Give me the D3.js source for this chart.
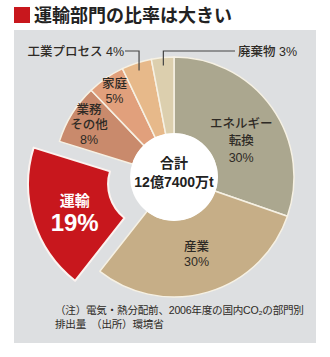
<!DOCTYPE html>
<html><head><meta charset="utf-8">
<script src="https://cdn.jsdelivr.net/npm/d3@7"></script>
<style>
html,body{margin:0;padding:0;background:#fff;}
svg{display:block;font-family:"Liberation Sans","Noto Sans CJK JP",sans-serif;}
</style></head><body>
<svg id="c" width="330" height="357"></svg>
<script>
const title = "運輸部門の比率は大きい";
const categories = ["エネルギー\n転換", "産業", "運輸", "業務\nその他", "家庭", "工業プロセス", "廃棄物"];
const values = [30, 30, 19, 8, 5, 4, 3];
const colors = ["#aba78f", "#c6ae87", "#c8171d", "#c98a6c", "#e1a07c", "#e7b98a", "#dccfae"];
const totalLabel = ["合計", "12億7400万t"];
const note = ["（注）電気・熱分配前、2006年度の国内CO₂の部門別", "排出量　（出所）環境省"];
const highlight = "運輸";
const outsideLabels = ["工業プロセス", "廃棄物"];

const svg = d3.select("#c");
// panel
svg.append("rect").attr("x",14).attr("y",30).attr("width",302).attr("height",313).attr("fill","#dddfe1");
// title
svg.append("rect").attr("x",14).attr("y",7).attr("width",16).attr("height",16).attr("fill","#c8171d");
svg.append("text").attr("x",34).attr("y",22).attr("font-size",18).attr("font-weight","bold")
  .attr("font-family","Noto Sans CJK JP").attr("fill","#222").text(title);

const cx = 174, cy = 177, R = 120, r0 = 43, explode = 24, Rhl = 123;
const data = categories.map((c,i)=>({cat:c, value:values[i], color:colors[i]}));
const pie = d3.pie().value(d=>d.value).sort(null);
const arcs = pie(data);
const arc = d3.arc().innerRadius(r0).outerRadius(d=>d.data.cat===highlight?Rhl:R);
const g = svg.append("g").attr("transform",`translate(${cx},${cy})`);

function offset(a){
  if (a.data.cat !== highlight) return [0,0];
  const m = (a.startAngle+a.endAngle)/2;
  return [explode*Math.sin(m), -explode*Math.cos(m)];
}
g.selectAll("path.s").data(arcs).join("path").attr("class","s")
  .attr("d",arc)
  .attr("transform",d=>`translate(${offset(d)})`)
  .attr("fill",d=>d.data.color)
  .attr("stroke",d=>d.data.cat===highlight?"#fbf3f0":"#f6f1e4")
  .attr("stroke-width",d=>d.data.cat===highlight?2:1.5).attr("stroke-linejoin","round");

g.append("circle").attr("r",r0+1).attr("fill","#fff");
g.append("text").attr("text-anchor","middle").attr("y",-9).attr("font-size",14).attr("font-weight","bold").attr("fill","#222").text(totalLabel[0]);
g.append("text").attr("text-anchor","middle").attr("y",10).attr("font-size",14).attr("font-weight","bold").attr("fill","#222").text(totalLabel[1]);

// small label nudges (pixels) for readability, like the original layout
const nudge = {"エネルギー\n転換":[2,10]};

// inside labels
arcs.forEach(a=>{
  if (outsideLabels.includes(a.data.cat)) return;
  const m = (a.startAngle+a.endAngle)/2;
  const lr = a.data.value < 6 ? 105 : a.data.value < 10 ? 100 : 80;
  const o = offset(a);
  const n = nudge[a.data.cat] || [0,0];
  const x = o[0] + lr*Math.sin(m) + n[0], y = o[1] - lr*Math.cos(m) + n[1];
  const lines = a.data.cat.split("\n").concat([a.data.value+"%"]);
  const hl = a.data.cat===highlight;
  if (hl) {
    g.append("text").attr("x",x).attr("y",y-2).attr("text-anchor","middle").attr("fill","#fff")
      .attr("font-weight","bold").attr("font-size",15).text(lines[0]);
    g.append("text").attr("x",x).attr("y",y+23).attr("text-anchor","middle").attr("fill","#fff")
      .attr("font-weight","bold").attr("font-size",24).text(lines[1]);
  } else {
    const lh = lines.length === 3 && a.data.value >= 10 ? 17 : 15;
    lines.forEach((ln,i)=>{
      g.append("text").attr("x",x).attr("y", y + (i-(lines.length-1)/2)*lh + 4.5)
        .attr("text-anchor","middle").attr("fill","#2e2a25").attr("font-weight",500)
        .attr("font-size",12.5).text(ln);
    });
  }
});

// outside labels with leader lines
const ann = svg.append("g");
arcs.forEach(a=>{
  if (!outsideLabels.includes(a.data.cat)) return;
  const m = (a.startAngle+a.endAngle)/2;
  const px = cx + (R-8)*Math.sin(m), py = cy - (R-8)*Math.cos(m);
  const ly = 51;
  const left = a.data.cat==="工業プロセス";
  const tx = left ? 125 : 237;
  ann.append("path").attr("d",`M${tx+(left?0:-2)},${ly}H${px}V${py}`).attr("fill","none").attr("stroke","#444").attr("stroke-width",1.2);
  ann.append("text").attr("x",left?tx-1:tx+1).attr("y",ly+5).attr("text-anchor",left?"end":"start")
    .attr("font-size",12.5).attr("font-weight",500).attr("fill","#2e2a25").text(a.data.cat+" "+a.data.value+"%");
});

// notes
note.forEach((n,i)=>{
  svg.append("text").attr("x",55).attr("y",314+i*14).attr("font-size",10.6).attr("letter-spacing",-0.25)
    .attr("fill","#2e2a25").attr("xml:space","preserve").text(n);
});
</script>
</body></html>
